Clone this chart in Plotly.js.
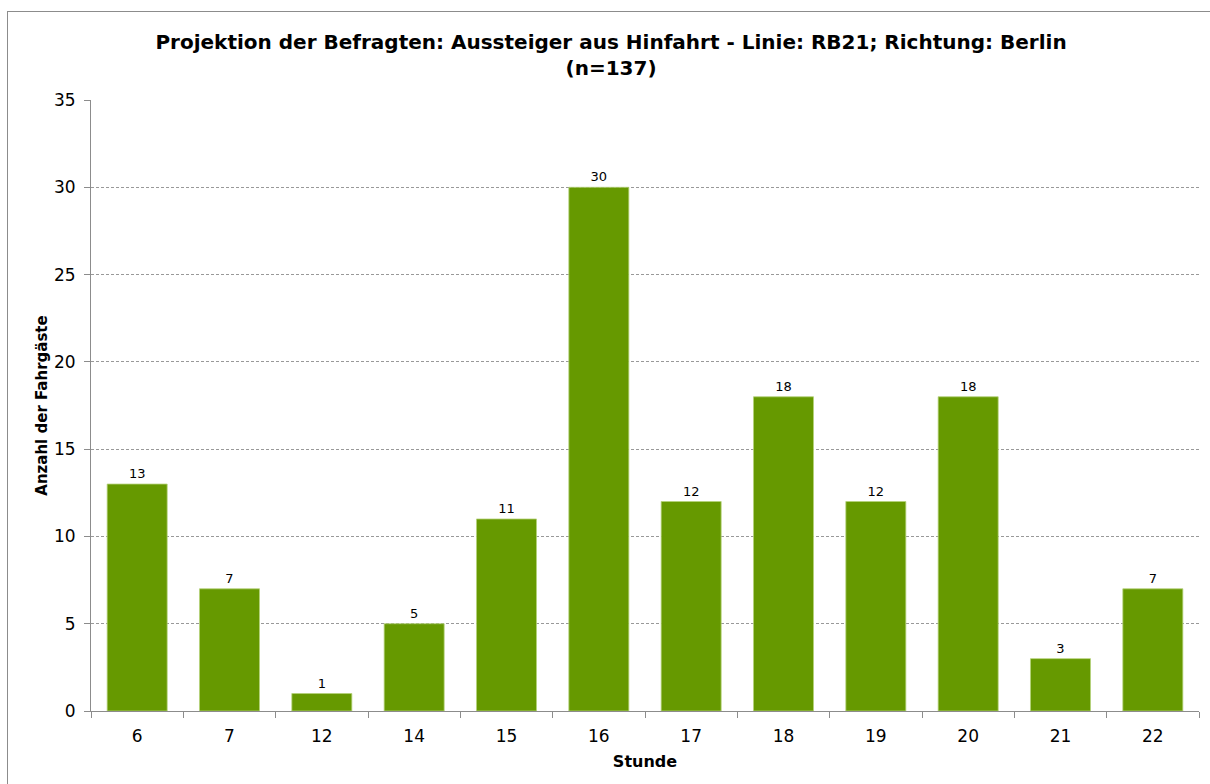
<!DOCTYPE html>
<html>
<head>
<meta charset="utf-8">
<script src="https://cdn.plot.ly/plotly-3.0.1.min.js"></script>
<style>
html,body{margin:0;padding:0;background:#fff;}
#frame{position:absolute;left:7px;top:11px;width:1300px;height:900px;border:1px solid #8c8c8c;}
#chart{position:absolute;left:0;top:0;width:1210px;height:784px;}
</style>
</head>
<body>
<div id="frame"></div>
<div id="chart"></div>
<script>
var categories = ["6","7","12","14","15","16","17","18","19","20","21","22"];
var values = [13, 7, 1, 5, 11, 30, 12, 18, 12, 18, 3, 7];
var yTicks = [0, 5, 10, 15, 20, 25, 30, 35];

var FONT = "DejaVu Sans, Verdana, sans-serif";
var trace = {
  type: "bar",
  x: categories,
  y: values,
  marker: {color: "#669900", line: {color: "#b5d27a", width: 0.8}},
  text: values.map(String),
  textposition: "outside",
  textfont: {family: FONT, size: 13, color: "#000"},
  cliponaxis: false,
  hoverinfo: "x+y"
};
var layout = {
  width: 1210, height: 784,
  margin: {l: 91, r: 11, t: 100, b: 73},
  paper_bgcolor: "rgba(0,0,0,0)",
  plot_bgcolor: "rgba(0,0,0,0)",
  bargap: 0.35,
  showlegend: false,
  title: {
    text: "<b>Projektion der Befragten: Aussteiger aus Hinfahrt - Linie: RB21; Richtung: Berlin<br>(n=137)</b>",
    font: {family: FONT, size: 20, color: "#000"},
    x: 0.505, xanchor: "center", yref: "container", y: 0.938, yanchor: "top"
  },
  xaxis: {
    type: "category",
    tickson: "boundaries",
    ticks: "outside", ticklen: 6, tickcolor: "#8c8c8c",
    ticklabelstandoff: 10,
    showline: true, linecolor: "#8c8c8c", linewidth: 1,
    showgrid: false,
    tickfont: {family: FONT, size: 17, color: "#000"},
    title: {text: "<b>Stunde</b>", font: {family: FONT, size: 16, color: "#000"}, standoff: 10}
  },
  yaxis: {
    range: [0, 35],
    tickvals: yTicks,
    ticks: "outside", ticklen: 6, tickcolor: "#8c8c8c",
    ticklabelstandoff: 5,
    showline: true, linecolor: "#8c8c8c", linewidth: 1,
    showgrid: true, gridcolor: "#999999", griddash: "3px,2px", gridwidth: 1,
    zeroline: false,
    tickfont: {family: FONT, size: 17, color: "#000"},
    title: {text: "<b>Anzahl der Fahrgäste</b>", font: {family: FONT, size: 15, color: "#000"}, standoff: 2}
  }
};
Plotly.newPlot("chart", [trace], layout, {displayModeBar: false, staticPlot: true});
</script>
</body>
</html>
